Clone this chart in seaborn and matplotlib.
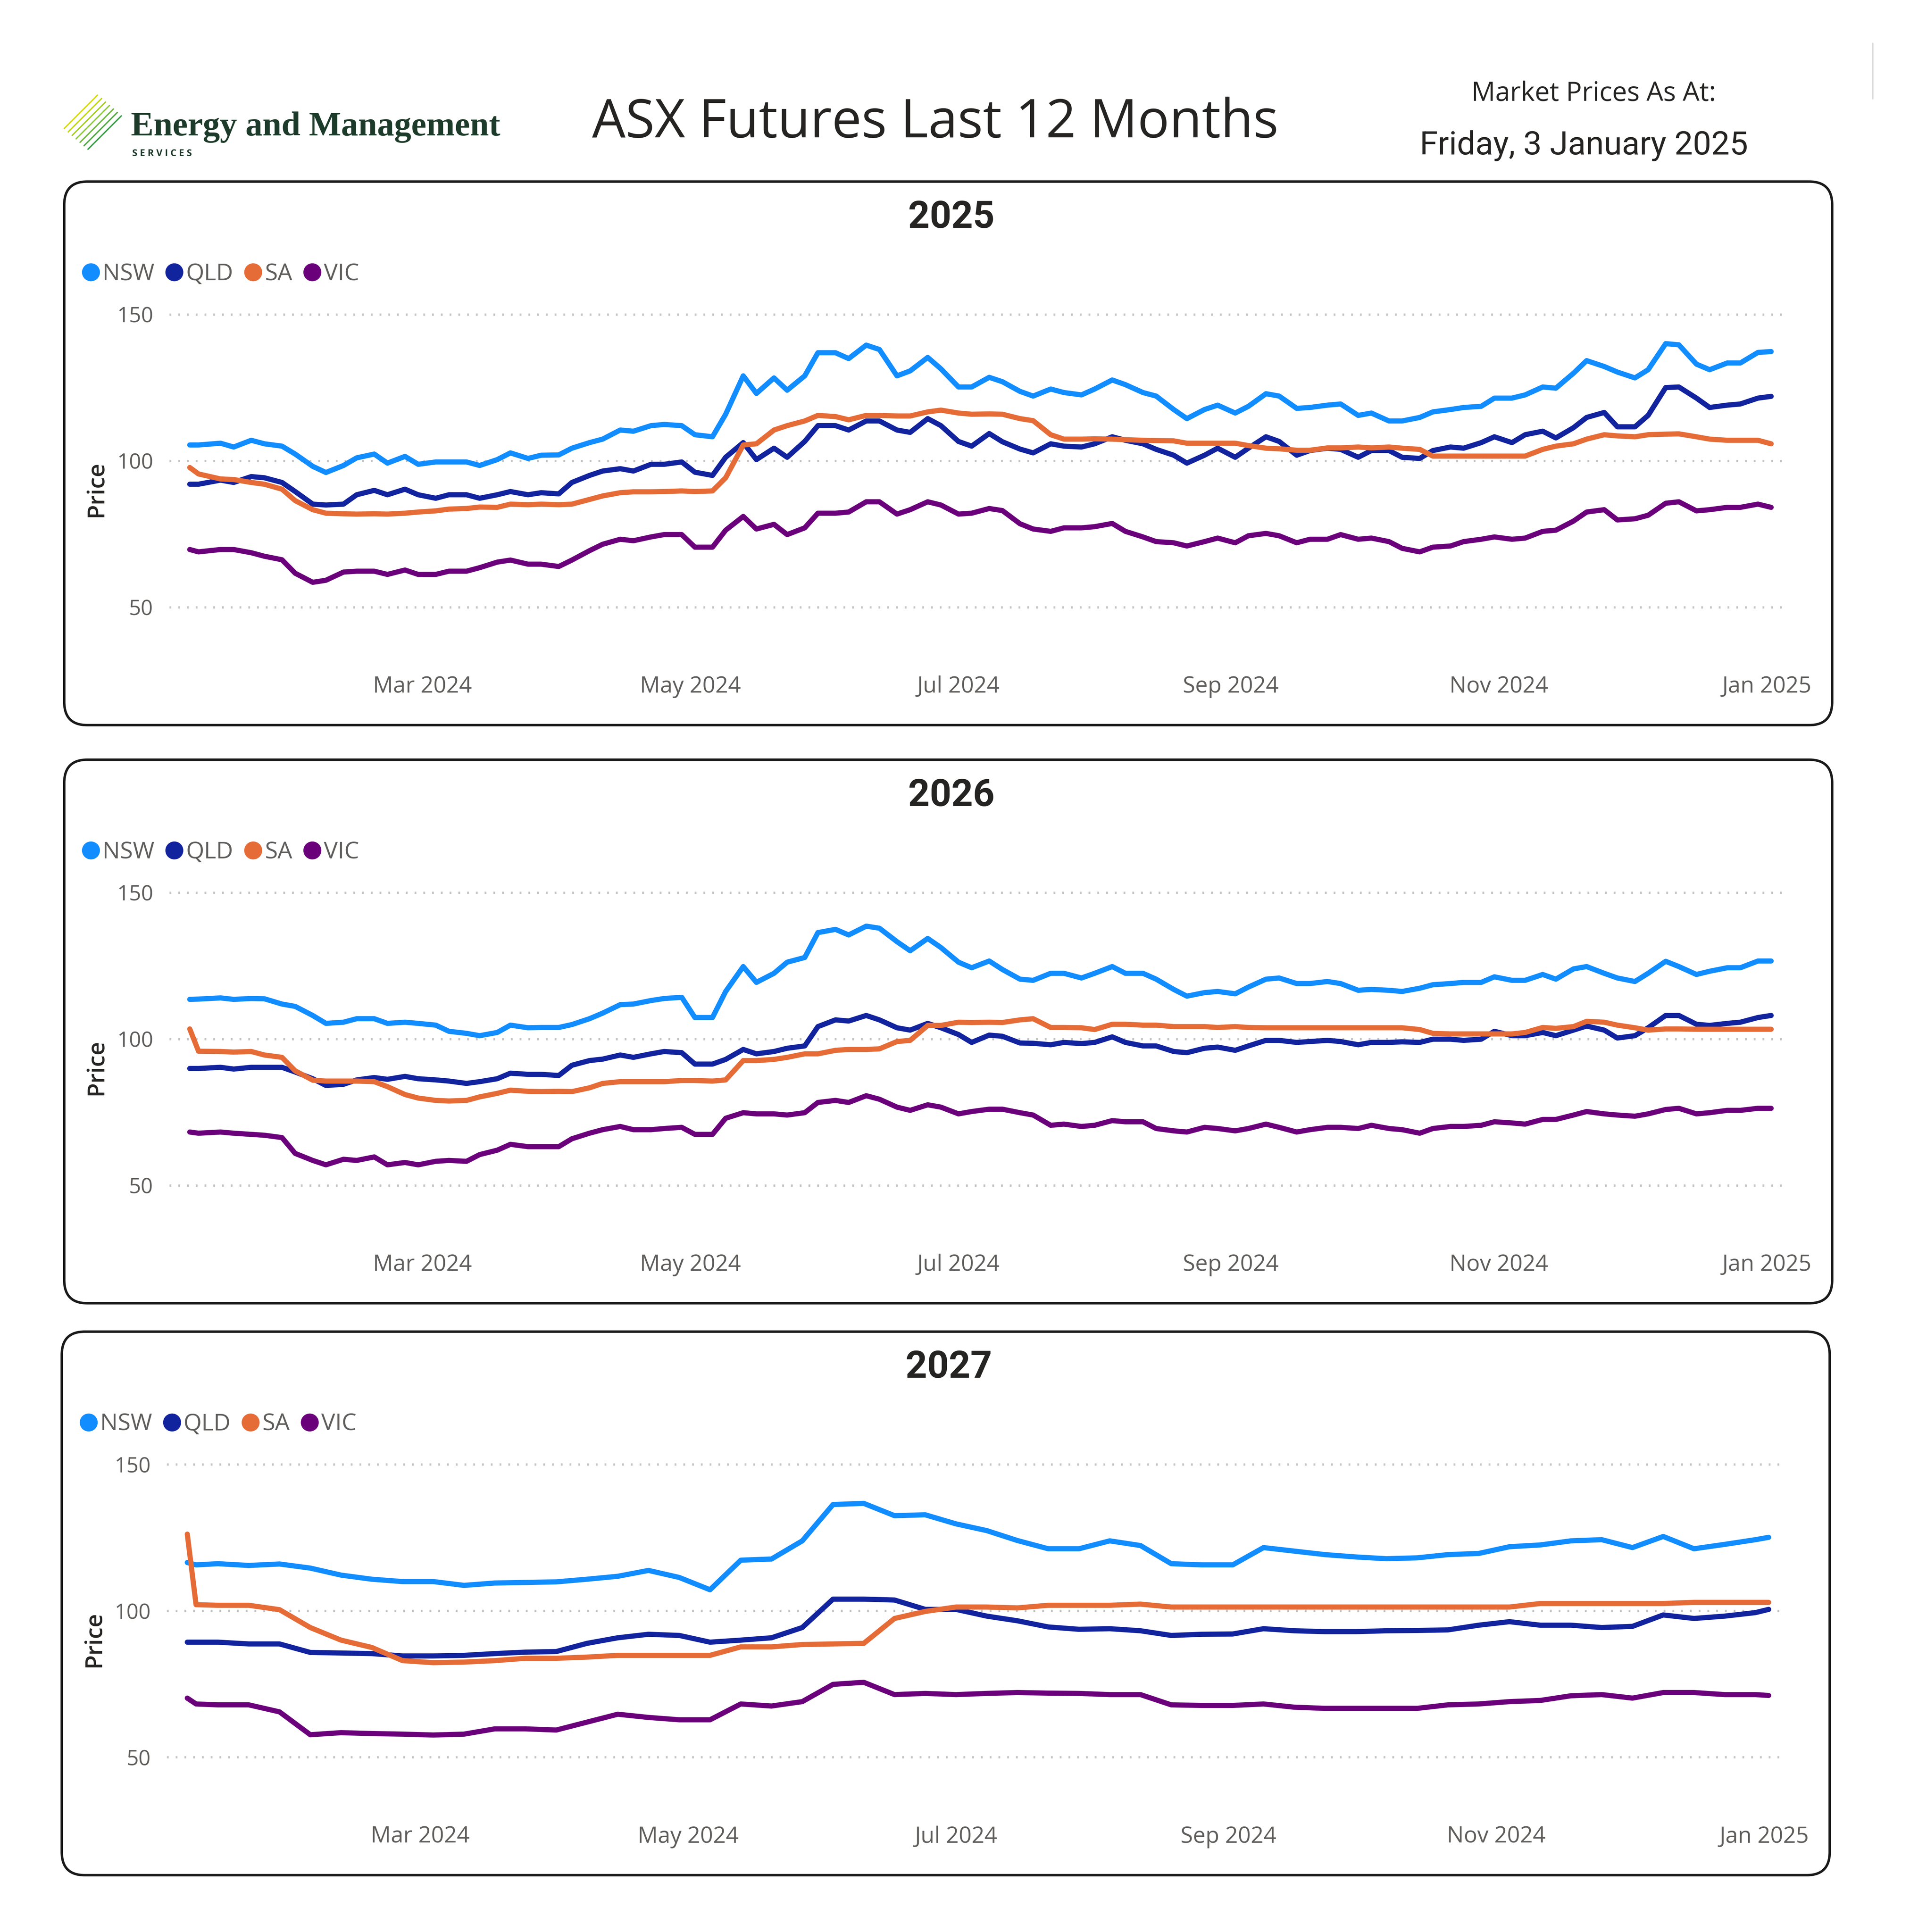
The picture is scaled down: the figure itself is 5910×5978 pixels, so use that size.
import pandas as pd
import matplotlib
matplotlib.use("Agg")
import matplotlib.pyplot as plt
from matplotlib.lines import Line2D
from matplotlib.patches import FancyBboxPatch
import seaborn as sns

# Datas: segundas-feiras (+10/jan e último pregão) e quintas-feiras
DATES = ([pd.Timestamp("2024-01-08"), pd.Timestamp("2024-01-10")]
         + list(pd.date_range("2024-01-15", "2024-12-30", freq="7D"))
         + [pd.Timestamp("2025-01-02")])
DATES_MID = list(pd.date_range("2024-01-18", "2024-12-26", freq="7D"))

REGIONS = ["NSW", "QLD", "SA", "VIC"]
YEARS = ["2025", "2026", "2027"]
XTICKS = ["2024-03-01", "2024-05-01", "2024-07-01", "2024-09-01", "2024-11-01", "2025-01-01"]
XTICK_LABELS = ["Mar 2024", "May 2024", "Jul 2024", "Sep 2024", "Nov 2024", "Jan 2025"]
YTICKS = [50, 100, 150]

# --- 2025 ---
nsw_2025 = [105.4, 105.4, 106.0, 107.0, 105.0, 98.1, 98.4, 102.3, 101.5, 99.6,
            99.6, 100.4, 100.8, 102.0, 106.2, 110.5, 112.0, 112.0, 108.2, 129.0,
            128.3, 129.0, 136.9, 139.5, 129.0, 135.3, 125.2, 128.5, 123.7, 124.5,
            122.5, 127.6, 123.3, 117.5, 117.5, 116.3, 122.9, 117.9, 119.0, 115.5,
            113.6, 114.8, 117.5, 118.6, 121.4, 125.2, 129.9, 132.2, 128.3, 140.0,
            133.0, 133.4, 137.0, 137.3]
nsw_2025_mid = [104.7, 105.8, 102.3, 96.0, 101.0, 99.2, 98.8, 99.6, 98.4, 102.7,
                101.9, 104.3, 107.4, 110.1, 112.4, 108.9, 115.9, 123.0, 124.1, 136.9,
                134.9, 138.0, 130.7, 131.4, 125.2, 127.0, 122.1, 123.3, 124.5, 126.0,
                122.1, 114.4, 119.0, 118.6, 122.1, 118.2, 119.4, 116.3, 113.6, 116.7,
                118.2, 121.4, 122.5, 124.8, 134.2, 130.3, 131.1, 139.6, 131.1, 133.4]
qld_2025 = [92.0, 92.0, 93.4, 94.6, 92.6, 85.2, 85.2, 89.9, 90.3, 87.2,
            88.4, 88.4, 88.4, 88.7, 95.0, 97.3, 98.8, 99.6, 95.0, 106.2,
            104.3, 106.6, 112.0, 113.6, 110.5, 114.4, 106.6, 109.3, 104.0, 105.8,
            104.7, 108.2, 105.8, 101.9, 101.9, 101.2, 108.2, 101.9, 104.3, 101.2,
            103.5, 100.8, 104.7, 106.2, 106.2, 110.1, 111.3, 116.5, 111.6, 125.0,
            121.4, 119.0, 121.4, 122.0]
qld_2025_mid = [92.6, 94.2, 89.5, 84.9, 88.4, 88.4, 88.4, 88.4, 87.2, 89.5,
                89.1, 92.6, 96.5, 96.5, 98.8, 96.1, 101.2, 100.4, 101.2, 112.0,
                110.5, 113.6, 109.7, 112.0, 105.0, 106.5, 102.7, 105.0, 105.8, 107.0,
                103.9, 99.2, 104.3, 104.3, 106.6, 103.5, 103.9, 103.5, 101.2, 103.5,
                104.3, 108.2, 108.9, 107.8, 114.8, 111.6, 115.5, 125.2, 118.2, 119.4]
sa_2025 = [97.7, 95.5, 93.8, 92.6, 90.3, 83.3, 81.9, 81.9, 82.1, 82.9,
           83.7, 84.1, 85.0, 85.0, 86.8, 89.1, 89.4, 89.7, 89.7, 105.4,
           110.5, 113.6, 115.1, 115.5, 115.3, 116.7, 116.3, 116.0, 114.4, 108.9,
           107.4, 107.4, 107.0, 106.8, 106.0, 106.0, 104.3, 103.6, 104.4, 104.7,
           104.7, 103.9, 101.6, 101.6, 101.6, 103.9, 105.8, 108.9, 108.2, 109.1,
           108.2, 107.0, 107.0, 105.8]
sa_2025_mid = [93.6, 92.0, 86.4, 82.1, 81.8, 81.8, 82.5, 83.5, 84.2, 85.2,
               85.2, 85.2, 88.0, 89.4, 89.5, 89.5, 94.2, 105.8, 112.0, 115.5,
               114.0, 115.5, 115.3, 117.3, 115.9, 115.9, 113.7, 107.4, 107.5, 107.2,
               106.9, 106.0, 106.0, 105.2, 104.1, 103.6, 104.4, 104.4, 104.3, 101.6,
               101.6, 101.6, 101.6, 105.0, 107.4, 108.5, 108.9, 109.2, 107.4, 107.0]
vic_2025 = [69.7, 68.9, 69.7, 68.6, 66.2, 58.5, 62.0, 62.3, 62.7, 61.2,
            62.3, 65.4, 64.7, 63.9, 69.3, 73.2, 74.0, 74.8, 70.5, 81.0,
            78.3, 77.1, 82.1, 86.0, 81.8, 86.0, 81.8, 83.7, 78.5, 75.9,
            77.1, 78.6, 74.0, 72.0, 72.4, 72.0, 75.2, 72.0, 73.2, 73.2,
            72.4, 68.9, 70.9, 73.2, 73.2, 75.9, 79.4, 83.3, 80.2, 85.5,
            82.9, 84.1, 85.2, 84.1]
vic_2025_mid = [69.7, 67.4, 61.6, 59.2, 62.3, 61.2, 61.2, 62.3, 63.5, 66.1,
                64.7, 66.1, 71.5, 72.7, 74.8, 70.5, 76.3, 76.7, 74.8, 82.1,
                82.5, 86.0, 83.3, 84.9, 82.1, 83.0, 76.7, 77.1, 77.5, 75.9,
                72.4, 70.9, 73.6, 74.4, 74.4, 73.2, 74.8, 73.6, 70.1, 70.5,
                72.4, 74.0, 73.6, 76.3, 82.5, 79.8, 81.4, 86.0, 83.3, 84.1]

# --- 2026 ---
nsw_2026 = [113.5, 113.6, 114.0, 113.8, 111.9, 108.0, 105.7, 106.9, 105.7, 104.7,
            101.9, 102.2, 103.8, 103.9, 106.9, 111.7, 113.1, 114.2, 107.3, 124.7,
            122.4, 127.8, 137.4, 138.5, 133.2, 134.3, 126.2, 126.6, 120.4, 122.4,
            120.8, 124.7, 122.4, 116.9, 115.8, 115.4, 120.4, 118.9, 119.6, 116.6,
            116.6, 117.3, 118.9, 119.3, 120.0, 122.0, 123.9, 122.4, 119.6, 126.5,
            122.0, 124.3, 126.6, 126.6]
nsw_2026_mid = [113.5, 113.7, 111.1, 105.3, 106.9, 105.3, 105.3, 102.6, 101.1, 104.7,
                103.9, 104.9, 108.8, 111.9, 113.8, 107.3, 116.2, 119.3, 126.2, 136.3,
                135.5, 137.8, 130.1, 131.2, 124.3, 123.7, 120.0, 122.4, 122.4, 122.4,
                120.4, 114.6, 116.2, 117.7, 120.8, 118.9, 118.9, 116.9, 116.2, 118.5,
                119.3, 121.2, 120.0, 120.4, 124.7, 120.8, 122.4, 124.7, 123.1, 124.3]
qld_2026 = [89.9, 89.9, 90.3, 90.3, 90.3, 86.4, 84.5, 86.8, 87.2, 86.0,
            84.8, 86.4, 87.9, 87.5, 92.6, 94.5, 94.9, 95.3, 91.4, 96.4,
            95.7, 97.6, 106.5, 108.0, 103.8, 105.3, 101.5, 101.3, 98.6, 98.0,
            98.4, 100.7, 97.6, 95.7, 96.8, 96.1, 99.5, 98.8, 99.5, 98.0,
            98.8, 98.8, 99.9, 99.9, 101.1, 102.2, 103.0, 103.0, 101.1, 108.0,
            105.0, 105.3, 107.3, 108.0]
qld_2026_mid = [89.7, 90.3, 88.7, 84.1, 86.0, 86.2, 86.4, 85.6, 85.4, 88.3,
                87.9, 91.0, 93.1, 93.7, 95.7, 91.4, 93.0, 94.9, 96.8, 104.2,
                106.1, 106.5, 103.0, 103.8, 98.8, 100.9, 98.5, 98.8, 98.8, 98.8,
                97.6, 95.3, 97.2, 97.6, 99.5, 99.1, 99.1, 98.8, 99.0, 99.9,
                99.5, 102.6, 101.1, 101.1, 104.4, 100.3, 103.8, 108.0, 104.6, 105.7]
sa_2026 = [103.4, 95.8, 95.7, 95.7, 93.7, 85.9, 85.6, 85.4, 81.0, 79.0,
           79.0, 81.4, 82.1, 82.1, 83.3, 85.4, 85.4, 85.8, 85.6, 92.6,
           93.0, 94.9, 96.1, 96.4, 99.1, 104.6, 105.7, 105.7, 106.5, 103.9,
           103.8, 105.0, 104.7, 104.2, 104.2, 104.2, 103.8, 103.8, 103.8, 103.8,
           103.8, 103.2, 101.7, 101.7, 101.7, 103.9, 104.2, 105.7, 103.8, 103.4,
           103.3, 103.3, 103.3, 103.3]
sa_2026_mid = [95.5, 94.5, 89.1, 85.6, 85.6, 83.7, 79.8, 78.8, 80.2, 82.5,
               82.0, 82.0, 84.8, 85.4, 85.4, 85.8, 86.0, 92.6, 93.7, 94.9,
               96.4, 96.6, 99.5, 104.6, 105.6, 105.6, 106.9, 103.9, 103.2, 105.0,
               104.7, 104.2, 103.9, 103.9, 103.8, 103.8, 103.8, 103.8, 103.8, 101.9,
               101.7, 101.7, 102.2, 103.6, 106.0, 104.7, 103.0, 103.4, 103.3, 103.3]
vic_2026 = [68.2, 67.8, 68.2, 67.4, 66.3, 58.5, 58.9, 59.7, 57.8, 58.2,
            58.2, 62.0, 63.2, 63.2, 67.8, 70.1, 69.0, 69.8, 67.4, 74.8,
            74.4, 74.8, 79.0, 80.6, 76.7, 77.5, 74.4, 76.0, 74.8, 70.5,
            70.1, 72.1, 71.7, 68.6, 69.8, 68.6, 70.9, 68.2, 69.8, 69.4,
            69.4, 67.8, 70.1, 70.5, 71.3, 72.5, 74.0, 74.4, 73.6, 75.9,
            74.4, 75.6, 76.3, 76.3]
vic_2026_mid = [67.8, 67.1, 60.9, 57.0, 58.5, 57.0, 57.0, 58.5, 60.5, 64.0,
                63.2, 65.9, 69.0, 69.0, 69.4, 67.4, 72.9, 74.4, 74.0, 78.3,
                78.3, 79.4, 75.6, 76.7, 75.2, 76.0, 74.0, 70.9, 70.5, 71.7,
                69.4, 68.2, 69.4, 69.4, 69.8, 69.0, 69.8, 70.5, 69.0, 69.4,
                70.1, 71.7, 70.9, 72.5, 75.2, 74.0, 74.4, 76.3, 74.8, 75.6]

# --- 2027 ---
nsw_2027 = [116.5, 115.7, 116.1, 115.5, 116.0, 114.6, 112.2, 110.8, 110.0, 110.0,
            108.7, 109.5, 109.7, 109.9, 110.8, 111.8, 113.8, 111.4, 107.2, 117.3,
            117.7, 123.9, 136.3, 136.7, 132.5, 132.8, 129.7, 127.4, 124.0, 121.2,
            121.2, 123.9, 122.3, 116.1, 115.7, 115.7, 121.6, 120.4, 119.2, 118.4,
            117.8, 118.1, 119.2, 119.6, 121.9, 122.5, 123.9, 124.3, 121.6, 125.4,
            121.2, 122.7, 124.3, 125.1]
qld_2027 = [89.3, 89.3, 89.3, 88.7, 88.7, 85.8, 85.6, 85.4, 84.6, 84.6,
            84.8, 85.4, 85.9, 86.1, 88.9, 90.8, 92.0, 91.6, 89.3, 90.0,
            90.8, 94.3, 104.0, 104.0, 103.7, 100.5, 100.5, 98.2, 96.6, 94.5,
            93.7, 93.9, 93.2, 91.6, 92.0, 92.1, 93.9, 93.2, 92.9, 92.9,
            93.2, 93.3, 93.5, 95.1, 96.3, 95.1, 95.1, 94.3, 94.7, 98.6,
            97.4, 98.2, 99.4, 100.5]
sa_2027 = [126.2, 102.1, 101.9, 101.9, 100.4, 94.3, 90.0, 87.5, 83.0, 82.3,
           82.5, 83.0, 83.8, 83.8, 84.2, 84.8, 84.8, 84.8, 84.8, 87.7,
           87.7, 88.5, 88.7, 88.9, 97.4, 99.8, 101.3, 101.3, 101.0, 101.9,
           101.9, 101.9, 102.3, 101.3, 101.3, 101.3, 101.3, 101.3, 101.3, 101.3,
           101.3, 101.3, 101.3, 101.3, 101.3, 102.5, 102.5, 102.5, 102.5, 102.5,
           102.9, 102.9, 102.9, 102.9]
vic_2027 = [70.2, 68.2, 67.9, 67.9, 65.5, 57.7, 58.4, 58.1, 57.9, 57.6,
            57.9, 59.7, 59.7, 59.3, 62.0, 64.7, 63.6, 62.8, 62.8, 68.2,
            67.5, 69.0, 74.9, 75.6, 71.4, 71.8, 71.4, 71.8, 72.1, 71.9,
            71.8, 71.4, 71.4, 67.9, 67.7, 67.7, 68.2, 67.1, 66.7, 66.7,
            66.7, 66.7, 67.9, 68.2, 69.0, 69.4, 71.0, 71.4, 70.2, 72.1,
            72.1, 71.4, 71.4, 71.1]

SERIES = {
    "2025": [nsw_2025, qld_2025, sa_2025, vic_2025],
    "2026": [nsw_2026, qld_2026, sa_2026, vic_2026],
    "2027": [nsw_2027, qld_2027, sa_2027, vic_2027],
}
SERIES_MID = {
    "2025": [nsw_2025_mid, qld_2025_mid, sa_2025_mid, vic_2025_mid],
    "2026": [nsw_2026_mid, qld_2026_mid, sa_2026_mid, vic_2026_mid],
}

PALETTE = {"NSW": "#118DFF", "QLD": "#12239E", "SA": "#E66C37", "VIC": "#6B007B"}
DARK = "#252423"
GRAY = "#605E5C"

sns.set_theme(style="white")
plt.rcParams["font.family"] = ["Open Sans", "DejaVu Sans"]

# posições de layout medidas na referência (1546 x 1564)
W_REF, H_REF = 1546.0, 1564.0


def fx(x):
    return x / W_REF


def fy(y):
    return 1.0 - y / H_REF


def year_frame(year):
    """Monta a tabela longa (data, preço, região) de um ano-contrato."""
    parts = []
    for i, r in enumerate(REGIONS):
        parts.append(pd.DataFrame({"date": DATES, "price": SERIES[year][i], "region": r}))
        if year in SERIES_MID:
            parts.append(pd.DataFrame({"date": DATES_MID, "price": SERIES_MID[year][i],
                                       "region": r}))
    return pd.concat(parts, ignore_index=True).sort_values(["region", "date"])


fig = plt.figure(figsize=(59.10, 59.78), dpi=100)
fig.patch.set_facecolor("white")

# Cabeçalho: logotipo
stripe_cols = sns.blend_palette(["#D7DB00", "#8CC63F", "#2E9E3E"], 7)
for i, c in enumerate(stripe_cols):
    x0, y0 = 52 + 3.2 * i, 104 + 2.8 * i
    fig.add_artist(Line2D([fx(x0), fx(x0 + 27)], [fy(y0), fy(y0 - 27)],
                          color=c, lw=3.0, transform=fig.transFigure))
fig.text(fx(106), fy(103), "Energy and Management", family=["Liberation Serif", "DejaVu Serif"],
         weight="bold", fontsize=76, color="#1D3B2A", ha="left", va="center")
fig.text(fx(107), fy(124.5), "S E R V I C E S", fontsize=21, weight="bold",
         color="#1D3B2A", ha="left", va="center")

fig.text(fx(757), fy(100), "ASX Futures Last 12 Months", fontsize=118, color=DARK,
         ha="center", va="center")
fig.text(fx(1290), fy(76), "Market Prices As At:", fontsize=59, color=DARK,
         ha="center", va="center")
fig.text(fx(1282), fy(118), "Friday, 3 January 2025", family=["Roboto", "DejaVu Sans"],
         fontsize=73, weight="normal", color=DARK, ha="center", va="center")
fig.add_artist(Line2D([fx(1516), fx(1516)], [fy(35), fy(80)], color="#DADADA", lw=3,
                      transform=fig.transFigure))

legend_handles = [Line2D([], [], marker="o", ls="", markersize=39, color=PALETTE[r], label=r)
                  for r in REGIONS]

OFFSETS = [(0, 0), (0, 468), (-2, 931)]

for year, (dx, dy) in zip(YEARS, OFFSETS):
    # Moldura arredondada do painel
    box = FancyBboxPatch((fx(52 + dx), fy(587 + dy)), 1431 / W_REF, (587 - 147) / H_REF,
                         boxstyle="round,pad=0,rounding_size=0.012",
                         transform=fig.transFigure, fc="none", ec="#1A1A1A", lw=5.5)
    fig.add_artist(box)

    fig.text(fx(770 + dx), fy(176 + dy), year, family=["Roboto", "DejaVu Sans"],
             weight="bold", fontsize=84, color=DARK, ha="center", va="center")
    fig.text(fx(78 + dx), fy(396 + dy), "Price", rotation=90, fontsize=52,
             weight="semibold", color=DARK, ha="center", va="center")

    ax = fig.add_axes([fx(137 + dx), fy(520 + dy), (1445 - 137) / W_REF, (520 - 245) / H_REF])
    ax.set_facecolor("none")

    df = year_frame(year)
    sns.lineplot(data=df, x="date", y="price", hue="region", hue_order=REGIONS,
                 palette=PALETTE, linewidth=11.5, legend=False, ax=ax,
                 solid_joinstyle="round", solid_capstyle="round")

    ax.set_xlim(pd.Timestamp("2024-01-03 08:00"), pd.Timestamp("2025-01-05 05:00"))
    ax.set_ylim(38.0, 154.0)
    ax.set_yticks(YTICKS)
    ax.set_xticks(pd.to_datetime(XTICKS))
    ax.set_xticklabels(XTICK_LABELS)
    ax.tick_params(axis="x", length=0, pad=74, labelsize=50, labelcolor=GRAY)
    ax.tick_params(axis="y", length=0, pad=36, labelsize=47, labelcolor=GRAY)
    ax.set_xlabel("")
    ax.set_ylabel("")
    sns.despine(ax=ax, left=True, bottom=True)
    ax.grid(axis="y", color="#C4C4C4", linestyle=(0, (0.8, 3.1)), linewidth=5)
    ax.grid(axis="x", visible=False)

    ax.legend(handles=legend_handles, loc="center left",
              bbox_to_anchor=(fx(66 + dx), fy(222 + dy)), bbox_transform=fig.transFigure,
              ncol=4, frameon=False, fontsize=52, labelcolor=GRAY,
              handlelength=0.8, handletextpad=0.1, columnspacing=0.45,
              borderpad=0, borderaxespad=0)

fig.savefig("out.png", dpi=100)
